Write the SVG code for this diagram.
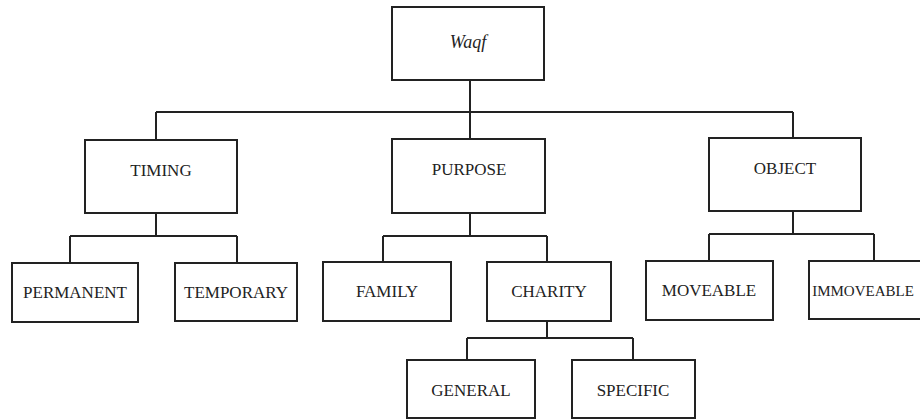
<svg xmlns="http://www.w3.org/2000/svg" width="920" height="420" viewBox="0 0 920 420">
<style>
.box{fill:#fff;stroke:#222;stroke-width:2}
.lbl{font-family:"Liberation Serif","Times New Roman",serif;font-size:17px;fill:#222;text-anchor:middle}
.ttl{font-style:italic;font-size:18px}
.con{fill:none;stroke:#222;stroke-width:2}
</style>
<rect width="920" height="420" fill="#fff"/>
<g id="connectors">
<path class="con" d="M470 80V112M156 112H793M156 112V140M470 112V139M793 112V138"/>
<path class="con" d="M156 213V236M70 236H237M70 236V263M237 236V263"/>
<path class="con" d="M470 213V236M383 236H547M383 236V262M547 236V262"/>
<path class="con" d="M793 211V234M709 234H874M709 234V261M874 234V261"/>
<path class="con" d="M547 321V338M467 338H633M467 338V360M633 338V360"/>
</g>
<g id="waqf"><rect class="box" x="392" y="7" width="152" height="73"/><text class="lbl ttl" x="468" y="48">Waqf</text></g>
<g id="timing"><rect class="box" x="85" y="140" width="152" height="73"/><text class="lbl" x="161" y="176">TIMING</text></g>
<g id="purpose"><rect class="box" x="392" y="139" width="153" height="74"/><text class="lbl" x="469" y="175">PURPOSE</text></g>
<g id="object"><rect class="box" x="709" y="138" width="152" height="73"/><text class="lbl" x="785" y="174">OBJECT</text></g>
<g id="permanent"><rect class="box" x="12" y="263" width="126" height="59"/><text class="lbl" x="75" y="298">PERMANENT</text></g>
<g id="temporary"><rect class="box" x="175" y="263" width="122" height="58"/><text class="lbl" x="236" y="298">TEMPORARY</text></g>
<g id="family"><rect class="box" x="323" y="262" width="128" height="59"/><text class="lbl" x="387" y="297">FAMILY</text></g>
<g id="charity"><rect class="box" x="487" y="262" width="124" height="59"/><text class="lbl" x="549" y="297">CHARITY</text></g>
<g id="moveable"><rect class="box" x="646" y="261" width="127" height="59"/><text class="lbl" x="709" y="296">MOVEABLE</text></g>
<g id="immoveable"><rect class="box" x="809" y="261" width="140" height="58"/><text class="lbl" x="863" y="296" style="font-size:15px">IMMOVEABLE</text></g>
<g id="general"><rect class="box" x="407" y="360" width="128" height="58"/><text class="lbl" x="471" y="396">GENERAL</text></g>
<g id="specific"><rect class="box" x="572" y="360" width="123" height="58"/><text class="lbl" x="633" y="396">SPECIFIC</text></g>
</svg>
